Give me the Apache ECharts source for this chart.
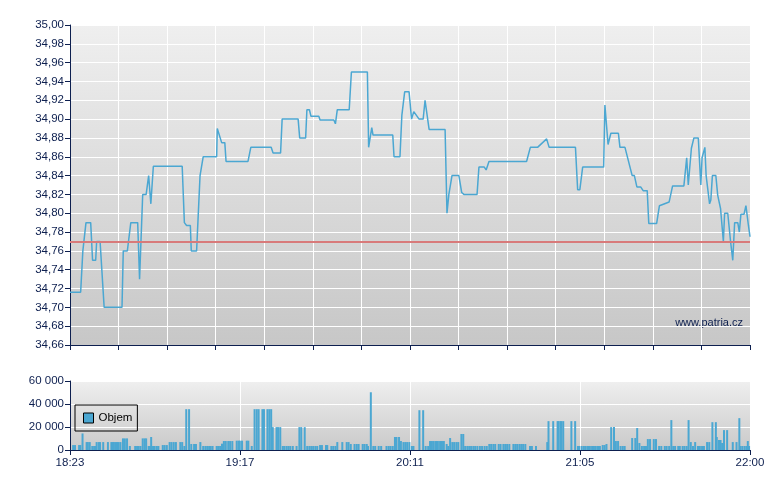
<!DOCTYPE html>
<html>
<head>
<meta charset="utf-8">
<script src="https://cdn.jsdelivr.net/npm/echarts/dist/echarts.min.js"></script>
<style>
html, body { margin: 0; padding: 0; background: #fff; }
#chart-container { width: 780px; height: 490px; }
</style>
</head>
<body>
<div id="chart-container"></div>
<script>
// minutes after 18:23, price
var priceData = [
    [0, 34.716], [3.4, 34.716], [4.1, 34.76], [5.1, 34.79], [6.6, 34.79], [7.2, 34.75], [8.2, 34.75],
    [8.5, 34.77], [9.6, 34.77], [10.9, 34.70], [16.6, 34.70], [17.0, 34.76], [18.3, 34.76], [19.4, 34.79],
    [21.6, 34.79], [22.2, 34.73], [22.8, 34.73], [23.2, 34.82], [24.3, 34.82], [25.1, 34.84], [25.5, 34.84],
    [25.8, 34.81], [26.6, 34.85], [35.8, 34.85], [36.5, 34.79], [37.2, 34.787], [38.4, 34.787], [38.7, 34.76],
    [40.4, 34.76], [41.5, 34.84], [42.5, 34.86], [46.8, 34.86], [47.0, 34.89], [47.6, 34.89], [48.4, 34.875],
    [49.4, 34.875], [49.8, 34.855], [56.8, 34.855], [57.7, 34.87], [64.2, 34.87], [64.8, 34.864], [67.2, 34.864],
    [67.7, 34.90], [72.8, 34.90], [73.3, 34.88], [75.2, 34.88], [75.6, 34.91], [76.4, 34.91], [76.9, 34.903],
    [79.4, 34.903], [79.8, 34.899], [84.2, 34.899], [84.7, 34.895], [85.3, 34.91], [89.1, 34.91], [89.8, 34.95],
    [94.9, 34.95], [95.3, 34.87], [95.7, 34.87], [96.3, 34.891], [96.7, 34.883], [103.0, 34.883], [103.4, 34.86],
    [105.3, 34.86], [105.9, 34.904], [106.8, 34.929], [108.2, 34.929], [109.0, 34.90], [109.7, 34.908],
    [111.4, 34.90], [112.7, 34.90], [113.3, 34.92], [114.6, 34.889], [119.7, 34.889], [120.3, 34.80],
    [120.9, 34.82], [121.9, 34.84], [124.1, 34.84], [125.0, 34.822], [125.7, 34.82], [129.9, 34.82],
    [130.5, 34.849], [132.2, 34.849], [132.8, 34.846], [133.7, 34.855], [145.7, 34.855], [146.9, 34.87],
    [149.2, 34.87], [152.1, 34.879], [152.9, 34.87], [161.3, 34.87], [162.0, 34.825], [162.7, 34.825],
    [163.6, 34.849], [170.3, 34.849], [170.7, 34.915], [171.7, 34.873], [172.6, 34.885], [175.0, 34.885],
    [175.5, 34.87], [177.1, 34.87], [179.4, 34.84], [180.1, 34.84], [180.9, 34.828], [182.1, 34.828],
    [182.9, 34.824], [184.2, 34.824], [184.7, 34.789], [187.2, 34.789], [188.1, 34.808], [191.2, 34.812],
    [192.3, 34.829], [195.9, 34.829], [196.8, 34.859], [197.3, 34.830], [198.3, 34.869], [199.1, 34.880],
    [200.5, 34.880], [201.3, 34.830], [201.7, 34.859], [202.1, 34.859], [202.6, 34.870], [203.0, 34.840],
    [203.4, 34.839], [204.1, 34.810], [204.5, 34.814], [205.0, 34.840], [206.1, 34.840], [206.7, 34.819],
    [207.1, 34.819], [207.6, 34.805], [208.0, 34.805], [208.5, 34.770], [208.9, 34.800], [209.9, 34.800],
    [210.8, 34.770], [211.5, 34.750], [212.1, 34.790], [213.1, 34.790], [213.6, 34.780], [214.1, 34.799],
    [215.1, 34.799], [215.7, 34.808], [216.1, 34.808], [216.5, 34.787], [216.8, 34.788], [217.0, 34.775]
];

// minutes after 18:23, traded volume
var volumeData = [
    [1.0, 4300], [1.6, 4300], [2.9, 4300], [3.3, 4300], [4.0, 14400], [5.3, 6900], [5.7, 6900], [6.3, 6900],
    [7.1, 3500], [7.7, 3500], [8.1, 3500], [8.5, 6900], [9.2, 6900], [9.6, 6900], [10.6, 6900], [12.1, 6900],
    [13.2, 6900], [13.6, 6900], [14.0, 6900], [14.5, 6900], [15.0, 6900], [15.5, 6900], [16.1, 6900],
    [16.9, 10100], [17.5, 10100], [18.2, 10100], [19.1, 3500], [20.8, 3500], [21.4, 3500], [21.9, 3500],
    [22.5, 3500], [23.2, 10100], [23.8, 10100], [24.3, 10100], [25.1, 3500], [25.5, 3500], [25.9, 11300],
    [26.5, 3500], [27.0, 3500], [27.7, 3500], [28.2, 3500], [29.6, 4300], [30.2, 4300], [30.9, 4300],
    [31.8, 6900], [32.4, 6900], [33.1, 6900], [33.8, 6900], [35.2, 6900], [35.8, 6900], [36.5, 3500],
    [37.1, 35500], [38.0, 35500], [38.7, 5200], [39.6, 5200], [40.2, 5200], [41.6, 6900], [42.5, 3500],
    [43.2, 3500], [43.8, 3500], [44.4, 3500], [44.9, 3500], [45.5, 3500], [46.8, 3500], [47.3, 3500],
    [47.9, 3500], [48.5, 5500], [49.1, 7800], [49.7, 7800], [50.5, 7800], [51.1, 7800], [51.8, 7800],
    [53.2, 8100], [53.8, 8100], [54.2, 8100], [54.9, 8100], [56.4, 8100], [56.9, 8100], [58.0, 3500],
    [58.9, 35500], [59.6, 35500], [60.2, 35500], [61.4, 35500], [61.9, 35500], [63.0, 35500], [63.6, 35500],
    [64.2, 35500], [64.7, 19900], [65.9, 19900], [66.4, 19900], [67.1, 19900], [67.9, 3500], [68.4, 3500],
    [69.1, 3500], [69.7, 3500], [70.3, 3500], [71.1, 3500], [72.3, 3500], [73.2, 19900], [73.8, 19900],
    [74.9, 19900], [75.7, 3500], [76.4, 3500], [77.0, 3500], [77.6, 3500], [78.3, 3500], [78.9, 3500],
    [79.8, 4300], [80.4, 4300], [81.7, 4300], [82.1, 4300], [83.4, 3500], [84.0, 3500], [84.7, 3500],
    [85.3, 6900], [86.9, 6900], [88.3, 6900], [88.9, 6900], [89.6, 5200], [90.8, 5200], [91.5, 5200],
    [92.1, 5200], [93.4, 5200], [94.0, 5200], [94.7, 5200], [95.1, 3500], [96.0, 50200], [96.8, 3500],
    [97.4, 3500], [98.5, 3500], [99.3, 3500], [101.0, 3500], [101.7, 3500], [102.3, 3500], [103.0, 3500],
    [103.7, 11300], [104.2, 11300], [105.0, 11300], [105.6, 7800], [106.4, 6900], [107.0, 6900], [107.6, 6900],
    [108.3, 6900], [109.1, 3500], [109.6, 3500], [111.5, 34600], [112.7, 34600], [113.5, 3500], [114.3, 3500],
    [114.9, 7800], [115.5, 7800], [116.1, 7800], [116.8, 7800], [117.4, 7800], [118.1, 7800], [118.7, 7800],
    [119.3, 7800], [120.2, 5200], [120.7, 3500], [121.3, 10400], [122.0, 6900], [122.6, 6900], [123.3, 6900],
    [123.9, 6900], [124.9, 13900], [125.5, 13900], [126.1, 3500], [126.8, 3500], [127.4, 3500], [128.0, 3500],
    [128.7, 3500], [129.3, 3500], [130.0, 3500], [130.8, 3500], [131.5, 3500], [132.3, 3500], [133.0, 3500],
    [133.8, 5200], [134.4, 5200], [135.1, 5200], [135.7, 5200], [136.8, 5200], [137.4, 5200], [138.3, 5200],
    [138.9, 5200], [139.5, 5200], [140.2, 5200], [141.5, 5200], [142.1, 5200], [142.7, 5200], [143.4, 5200],
    [144.0, 5200], [144.6, 5200], [145.3, 5200], [146.8, 3500], [147.4, 3500], [148.7, 3500], [152.3, 6900],
    [152.7, 25100], [154.2, 25100], [155.6, 25100], [155.9, 25100], [156.5, 25100], [156.8, 25100],
    [157.4, 25100], [160.0, 25100], [161.2, 25100], [162.1, 3500], [162.5, 3500], [163.3, 3500], [164.0, 3500],
    [164.6, 3500], [165.3, 3500], [165.9, 3500], [166.6, 3500], [167.2, 3500], [167.8, 3500], [168.5, 3500],
    [169.1, 3500], [170.0, 4300], [170.6, 4300], [171.2, 5200], [172.7, 19900], [173.6, 19900], [174.2, 7800],
    [174.9, 7800], [175.7, 3500], [176.4, 3500], [177.0, 3500], [179.4, 10400], [180.4, 10400], [181.0, 19100],
    [181.7, 6100], [182.5, 3500], [183.2, 3500], [183.8, 3500], [184.4, 9500], [185.1, 9500], [186.3, 9500],
    [187.0, 9500], [188.0, 3500], [188.7, 3500], [189.8, 3500], [190.4, 3500], [191.2, 3500], [191.9, 26000],
    [192.5, 3500], [193.1, 3500], [194.1, 3500], [194.6, 3500], [195.5, 3500], [196.1, 3500], [196.8, 3500],
    [197.4, 26000], [198.1, 6900], [198.8, 3500], [199.5, 6900], [200.4, 3500], [201.0, 3500], [201.7, 3500],
    [202.3, 3500], [203.3, 6900], [204.0, 6900], [205.0, 24200], [206.1, 24200], [206.4, 11300], [207.1, 8700],
    [207.6, 8700], [208.1, 6100], [208.7, 17300], [209.7, 17300], [211.5, 6900], [212.7, 6900], [213.6, 27700],
    [214.0, 3500], [214.6, 3500], [215.3, 3500], [215.9, 3500], [216.3, 7800], [216.7, 3500]
];

var referencePrice = 34.77;
var sessionStart = 18 * 60 + 23;
var sessionLength = 217;

var dom = document.getElementById('chart-container');
var myChart = echarts.init(dom, null, { renderer: 'canvas' });

var navy = '#0d1f4f';
var blue = '#4ba7d2';
var labelSize = 11.5;

function timeLabel(v) {
    var t = Math.floor(sessionStart + v + 0.001);
    var h = Math.floor(t / 60);
    var m = t % 60;
    return h + ':' + (m < 10 ? '0' : '') + m;
}

function panelFill(top, bottom) {
    return new echarts.graphic.LinearGradient(0, 0, 0, 1, [
        { offset: 0, color: top },
        { offset: 1, color: bottom }
    ]);
}

var option = {
    animation: false,
    textStyle: { fontFamily: 'Liberation Sans, Arial, sans-serif' },
    grid: [
        { left: 70, top: 25, width: 680, height: 320, show: true, borderWidth: 0,
          backgroundColor: panelFill('#efefef', '#c7c7c7') },
        { left: 70, top: 381, width: 680, height: 69, show: true, borderWidth: 0,
          backgroundColor: panelFill('#efefef', '#c9c9c9') }
    ],
    legend: {
        data: ['Objem'],
        left: 75,
        top: 405,
        borderColor: '#000',
        borderWidth: 1,
        padding: [7, 5, 7, 8],
        itemWidth: 10,
        itemHeight: 10,
        icon: 'rect',
        itemStyle: { borderColor: '#000', borderWidth: 1 },
        textStyle: { color: '#000', fontSize: labelSize }
    },
    xAxis: [
        {
            type: 'value', gridIndex: 0, min: 0, max: sessionLength, interval: sessionLength / 14,
            axisLine: { lineStyle: { color: navy } },
            axisTick: { length: 5, lineStyle: { color: navy } },
            axisLabel: { show: false },
            splitLine: { lineStyle: { color: '#fff', width: 1 } }
        },
        {
            type: 'value', gridIndex: 1, min: 0, max: sessionLength, interval: sessionLength / 4,
            axisLine: { lineStyle: { color: navy } },
            axisTick: { length: 5, lineStyle: { color: navy } },
            axisLabel: { formatter: timeLabel, color: navy, fontSize: labelSize, margin: 7,
                         showMinLabel: true, showMaxLabel: true },
            splitLine: { lineStyle: { color: '#fff', width: 1 } }
        }
    ],
    yAxis: [
        {
            type: 'value', gridIndex: 0, min: 34.66, max: 35.0, interval: 0.02,
            axisLine: { show: true, lineStyle: { color: navy } },
            axisTick: { show: true, length: 5, lineStyle: { color: navy } },
            axisLabel: {
                color: navy, fontSize: labelSize, margin: 6,
                formatter: function (v) { return v.toFixed(2).replace('.', ','); }
            },
            splitLine: { lineStyle: { color: '#fff', width: 1 } }
        },
        {
            type: 'value', gridIndex: 1, min: 0, max: 60000, interval: 20000,
            axisLine: { show: true, lineStyle: { color: navy } },
            axisTick: { show: true, length: 5, lineStyle: { color: navy } },
            axisLabel: {
                color: navy, fontSize: labelSize, margin: 6,
                formatter: function (v) { return String(v).replace(/\B(?=(\d{3})+(?!\d))/g, ' '); }
            },
            splitLine: { lineStyle: { color: '#fff', width: 1 } }
        }
    ],
    graphic: [
        {
            type: 'text', right: 37, top: 317,
            style: { text: 'www.patria.cz', fill: navy, font: '11px "Liberation Sans", Arial' }
        }
    ],
    series: [
        {
            name: 'Kurz',
            type: 'line',
            xAxisIndex: 0,
            yAxisIndex: 0,
            showSymbol: false,
            lineStyle: { color: blue, width: 1.5 },
            data: priceData,
            markLine: {
                silent: true,
                symbol: 'none',
                label: { show: false },
                lineStyle: { color: '#d87a7a', width: 2, type: 'solid' },
                data: [{ yAxis: referencePrice }]
            }
        },
        {
            name: 'Objem',
            type: 'bar',
            xAxisIndex: 1,
            yAxisIndex: 1,
            barWidth: 2,
            itemStyle: { color: blue },
            data: volumeData
        }
    ]
};

if (option && typeof option === 'object') {
    myChart.setOption(option);
}

window.addEventListener('resize', myChart.resize);
</script>
</body>
</html>
